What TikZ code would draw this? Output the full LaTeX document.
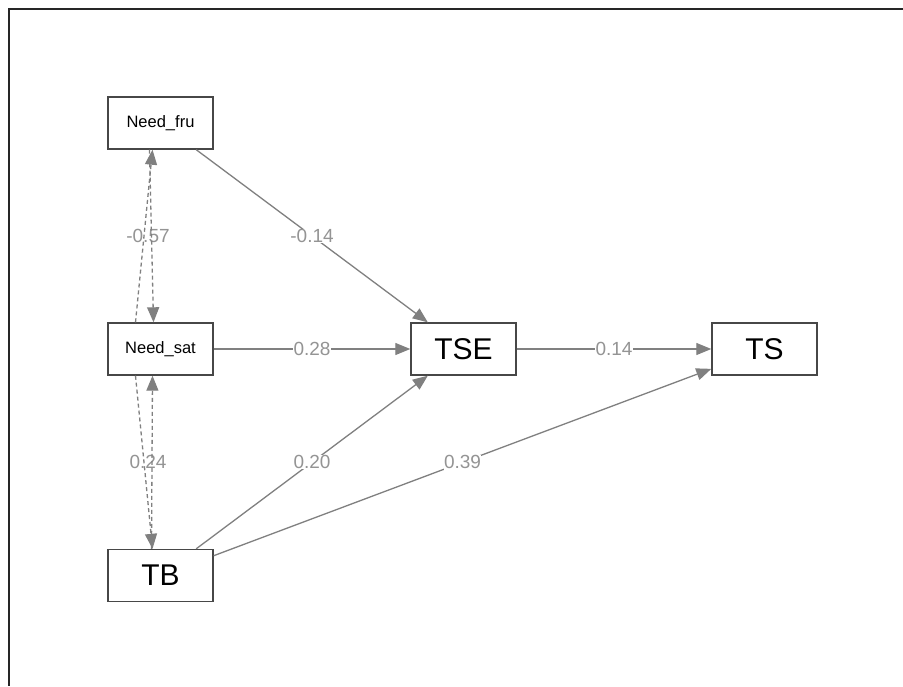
\documentclass[tikz,border=0pt]{standalone}
\usepackage{fontspec}
\setmainfont{Liberation Sans}
\usetikzlibrary{arrows.meta}
\definecolor{edgegray}{gray}{0.5}
\definecolor{labgray}{gray}{0.58}
\definecolor{boxgray}{gray}{0.28}
\tikzset{
  obsbox/.style={draw=boxgray, line width=1.4pt, fill=white, rectangle,
    minimum width=105pt, minimum height=52pt, inner sep=0pt},
  smalltext/.style={font=\fontsize{16.5}{20}\selectfont},
  bigtext/.style={font=\fontsize{30}{34}\selectfont},
  path/.style={draw=edgegray, line width=1.3pt,
    -{Triangle[length=15pt,width=12pt,fill=edgegray]}},
  covpath/.style={path, dashed, dash pattern=on 4pt off 3pt},
  elabel/.style={text=labgray, font=\fontsize{19}{21}\selectfont,
    fill=white, inner sep=0.5pt},
  clabel/.style={text=labgray, font=\fontsize{19}{21}\selectfont,
    inner sep=0.5pt},
  frameline/.style={draw=black!85, line width=1.1pt}
}
\begin{document}
\begin{tikzpicture}[x=1pt, y=-1pt]
\useasboundingbox (0,0) rectangle (903,686);
\fill[white] (0,0) rectangle (903,686);
% frame
\coordinate (fc) at (9,9);
\coordinate (fr) at (903,9);
\coordinate (fb) at (9,686);
\draw[frameline] (fr) -- (fc) -- (fb);

% nodes
\node[obsbox, smalltext] (nf) at (160.5,123) {Need\_fru};
\node[obsbox, smalltext] (ns) at (160.5,349) {Need\_sat};
\node[obsbox, bigtext] (tb) at (160.5,575.5) {TB};
\node[obsbox, bigtext] (tse) at (463.5,349) {TSE};
\node[obsbox, bigtext] (ts) at (764.5,349) {TS};

% regressions
\draw[path] (nf) -- node[elabel] {-0.14} (tse);
\draw[path] (ns) -- node[elabel] {0.28} (tse);
\draw[path] (tb) -- node[elabel] {0.20} (tse);
\draw[path] (tse) -- node[elabel] {0.14} (ts);
\draw[path] (tb) -- node[elabel] {0.39} (ts);

% covariances
\draw[covpath] ([xshift=-25pt]ns.north) -- node[clabel, xshift=4pt] {-0.57} ([xshift=-8pt]nf.south);
\draw[covpath] ([xshift=-11pt]nf.south) -- ([xshift=-7pt]ns.north);
\draw[covpath] ([xshift=-25pt]ns.south) -- node[clabel, xshift=4pt] {0.24} ([xshift=-8pt]tb.north);
\draw[covpath] ([xshift=-9pt]tb.north) -- ([xshift=-8pt]ns.south);
\end{tikzpicture}
\end{document}
